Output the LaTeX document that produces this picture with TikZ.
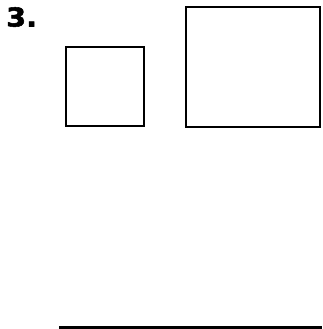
\documentclass[tikz,border=0pt]{standalone}
\usepackage{fontspec}
\newfontfamily\labelfont[BoldFeatures={FakeBold=2}]{DejaVu Sans}
\begin{document}
\begin{tikzpicture}[x=1pt,y=-1pt,
  sq/.style={draw=black,line width=2.5pt,minimum width=0pt,inner sep=0pt,outer sep=0pt,anchor=north west},
  heading/.style={font=\labelfont\bfseries\fontsize{26}{26}\selectfont,inner sep=0pt,anchor=north west,xscale=1.1}]
\useasboundingbox (0,0) rectangle (322,329);
\node[heading] (num) at (6,7) {3.};
\node[sq,minimum width=78pt,minimum height=79pt] (small) at (66,47) {};
\node[sq,minimum width=134pt,minimum height=120pt] (big) at (186,7) {};
\coordinate (la) at (59,327.5);
\coordinate (lb) at (322,327.5);
\draw[line width=2.2pt] (la) -- (lb);
\end{tikzpicture}
\end{document}
